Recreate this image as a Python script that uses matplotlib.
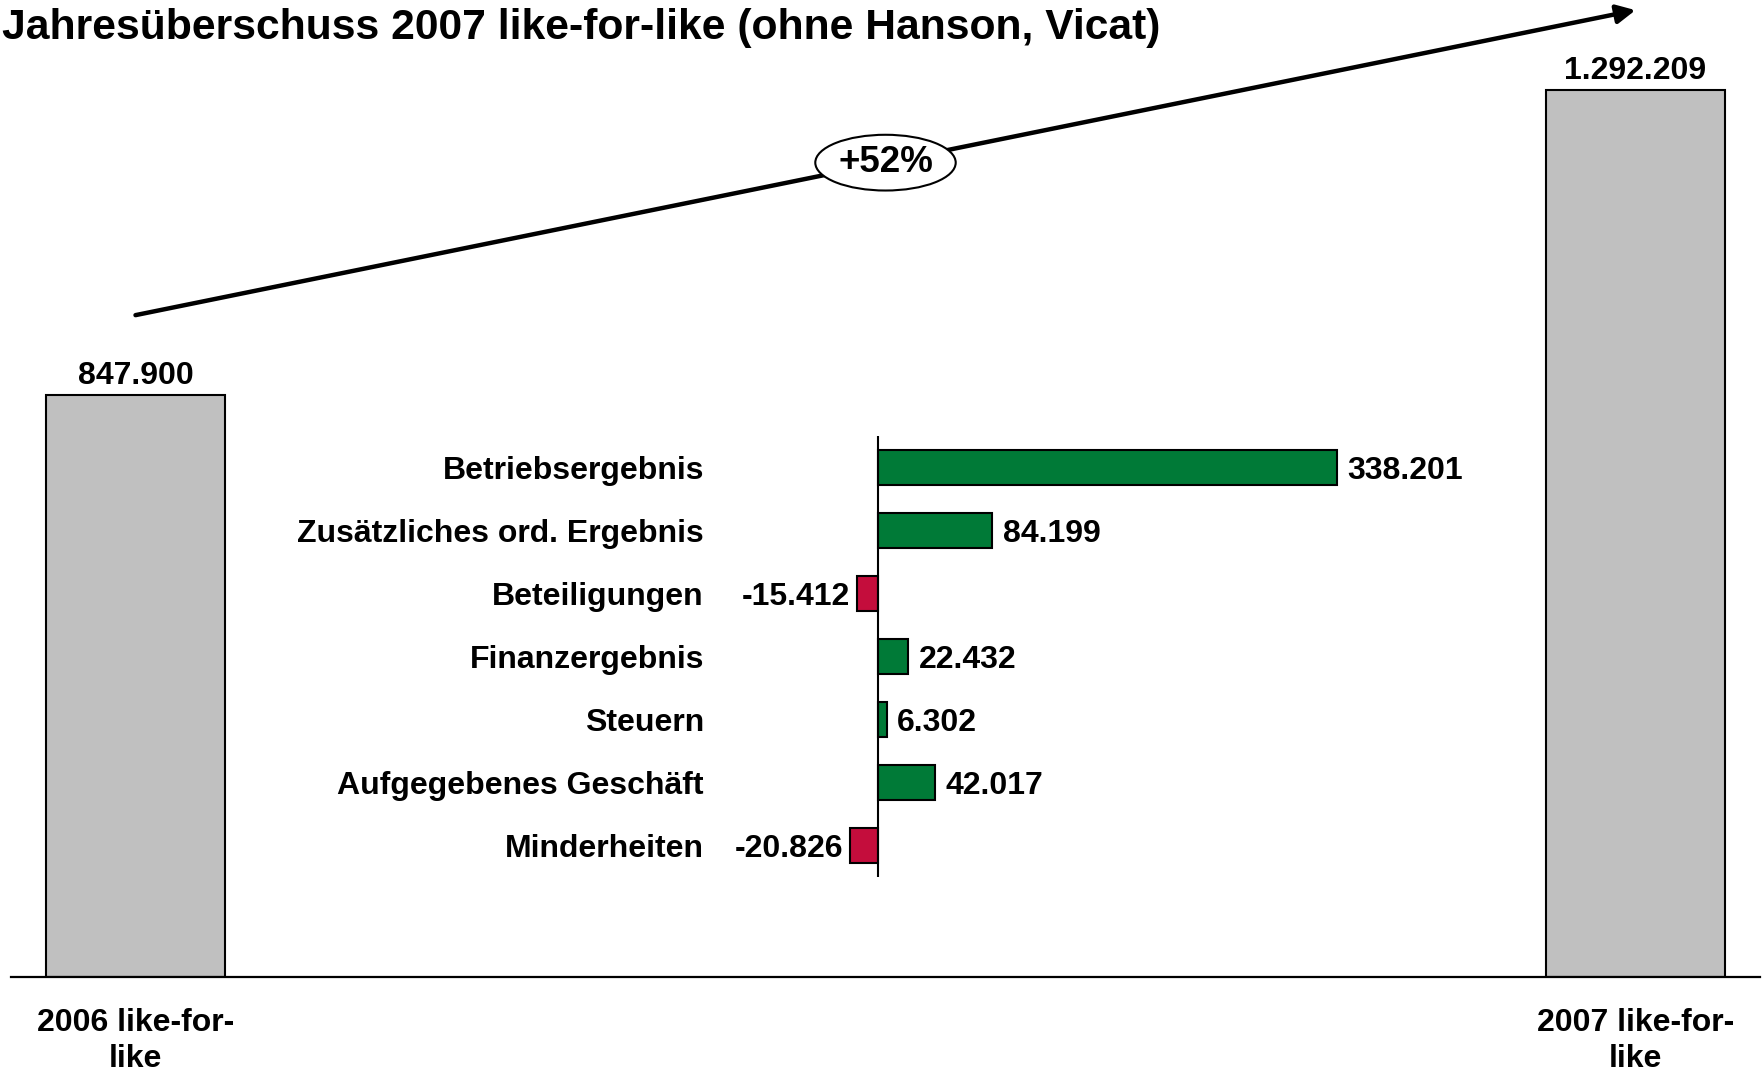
"""Jahresüberschuss 2007 like-for-like: Bridge from 2006 to 2007 with inner delta chart."""

import matplotlib
matplotlib.use("Agg")
import matplotlib.pyplot as plt

plt.rcParams["font.family"] = ["Liberation Sans", "DejaVu Sans"]
plt.rcParams["font.weight"] = "bold"

# ---------------------------------------------------------------------------
# Data
# ---------------------------------------------------------------------------

TITLE = "Jahresüberschuss 2007 like-for-like (ohne Hanson, Vicat)"

TOTAL_LABELS = ["2006 like-for-\nlike", "2007 like-for-\nlike"]
TOTAL_VALUES = [847900, 1292209]

DELTA_LABELS = [
    "Betriebsergebnis",
    "Zusätzliches ord. Ergebnis",
    "Beteiligungen",
    "Finanzergebnis",
    "Steuern",
    "Aufgegebenes Geschäft",
    "Minderheiten",
]
DELTA_VALUES = [338201, 84199, -15412, 22432, 6302, 42017, -20826]

# ---------------------------------------------------------------------------
# Style
# ---------------------------------------------------------------------------

W_PX, H_PX = 1763, 1072
GREY = "#C0C0C0"
GREEN = "#007A37"
RED = "#C40D3C"
FS = 23


def fmt(v):
    return f"{v:,}".replace(",", ".")


def px_box(left, bottom, right, top):
    """Pixel box (top-left origin) -> figure fraction rect."""
    return [left / W_PX, 1 - bottom / H_PX, (right - left) / W_PX, (bottom - top) / H_PX]


fig = plt.figure(figsize=(W_PX / 100, H_PX / 100), dpi=100)

# --- main bridge axes -------------------------------------------------------
ax = fig.add_axes(px_box(11, 977, 1760, 0))
xs = list(range(len(TOTAL_VALUES)))
ax.bar(xs, TOTAL_VALUES, width=0.119, color=GREY, edgecolor="black", linewidth=1.5)
ax.set_xlim(-0.083, 1.083)
ax.set_ylim(0, 1423300)

for x, v in zip(xs, TOTAL_VALUES):
    ax.annotate(fmt(v), xy=(x, v), xytext=(0, 3), textcoords="offset points",
                ha="center", va="bottom", fontsize=FS, fontweight="bold")

ax.set_xticks(xs)
ax.set_xticklabels(TOTAL_LABELS, fontsize=FS, fontweight="bold", linespacing=1.3)
ax.tick_params(axis="x", length=0, pad=22)
ax.set_yticks([])
for side in ("top", "left", "right"):
    ax.spines[side].set_visible(False)
ax.spines["bottom"].set_linewidth(1.6)

# growth arrow
offset = 0.09 * max(TOTAL_VALUES)
y0 = TOTAL_VALUES[0] + offset
y1 = TOTAL_VALUES[1] + offset
ax.annotate("", xy=(xs[1], y1), xytext=(xs[0], y0),
            arrowprops=dict(arrowstyle="-|>", lw=3.2, color="black",
                            mutation_scale=28, shrinkA=0, shrinkB=0))
growth = TOTAL_VALUES[1] / TOTAL_VALUES[0] - 1
ax.text((xs[0] + xs[1]) / 2, (y0 + y1) / 2, f"+{growth * 100:.0f}%",
        ha="center", va="center", fontsize=26.5, fontweight="bold",
        bbox=dict(boxstyle="ellipse,pad=0.06", fc="white", ec="black", lw=1.5))

# --- inner delta axes -------------------------------------------------------
ax2 = fig.add_axes(px_box(713, 877, 1500, 436))
ys = list(range(len(DELTA_VALUES)))
colors = [GREEN if v >= 0 else RED for v in DELTA_VALUES]
ax2.barh(ys, DELTA_VALUES, height=0.57, color=colors, edgecolor="black", linewidth=1.5)
ax2.set_xlim(-121600, 458400)
ax2.set_ylim(len(DELTA_VALUES) - 0.5, -0.5)
ax2.axvline(0, color="black", lw=1.5)

for y, v in zip(ys, DELTA_VALUES):
    ax2.annotate(fmt(v), xy=(v, y), xytext=(7.5 if v >= 0 else -5, 0),
                 textcoords="offset points", ha="left" if v >= 0 else "right",
                 va="center_baseline", fontsize=FS, fontweight="bold")

ax2.set_yticks(ys)
ax2.set_yticklabels(DELTA_LABELS, fontsize=FS, fontweight="bold")
ax2.tick_params(axis="y", length=0, pad=6.5)
ax2.set_xticks([])
for s in ax2.spines.values():
    s.set_visible(False)
ax2.patch.set_alpha(0)

fig.text(2 / W_PX, 1 - 39 / H_PX, TITLE, ha="left", va="baseline",
         fontsize=30.7, fontweight="bold")

fig.savefig("out.png", dpi=100)
